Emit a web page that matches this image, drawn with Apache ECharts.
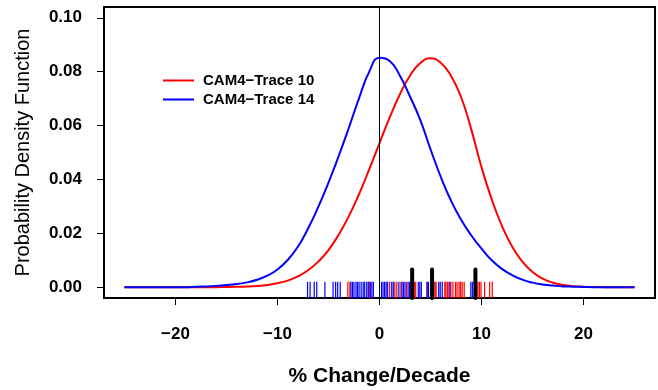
<!DOCTYPE html>
<html>
<head>
<meta charset="utf-8">
<script src="https://cdn.jsdelivr.net/npm/echarts@6/dist/echarts.min.js"></script>
<style>
  html, body { margin: 0; padding: 0; background: #fff; }
  #chart { width: 658px; height: 390px; }
</style>
</head>
<body>
<div id="chart"></div>
<script>
// curve grid (% change/decade) and read-off densities
const xs = [-25, -24, -23, -22, -21, -20, -19, -18, -17, -16, -15, -14, -13, -12, -11, -10, -9, -8, -7, -6, -5, -4, -3, -2, -1,
  0, 1, 2, 3, 4, 5, 6, 7, 8, 9, 10, 11, 12, 13, 14, 15, 16, 17, 18, 19, 20, 21, 22, 23, 24, 25];

const trace10 = [0, 0, 0, 0, 0, 0, 0, 0, 0.00001, 0.00003, 0.00006, 0.00013, 0.00025, 0.00047, 0.00084, 0.00147, 0.00246,
  0.0040, 0.00628, 0.0095, 0.0138, 0.0195, 0.0264, 0.0346, 0.0438, 0.0535, 0.0630, 0.0716, 0.0786, 0.0832, 0.0850, 0.0833,
  0.0785, 0.0705, 0.0585, 0.0445, 0.0326, 0.0228, 0.0151, 0.0095, 0.00564, 0.00317, 0.00168, 0.00085, 0.0004, 0.00018,
  0.00007, 0.00003, 0.00001, 0, 0];

const trace14 = [0, 0, 0, 0, 0, 0, 0, 0.0002, 0.0003, 0.0005, 0.0008, 0.0012, 0.0018, 0.0028, 0.0043, 0.0066,
  0.0101, 0.0150, 0.0218, 0.0298, 0.0388, 0.0487, 0.0592, 0.0702, 0.0800, 0.0852, 0.0840, 0.0785, 0.0707, 0.0620,
  0.0512, 0.0410, 0.0322, 0.0250, 0.0192, 0.0143, 0.0100, 0.0068, 0.0045, 0.0028, 0.0017, 0.0010, 0.0006, 0.0003,
  0.0002, 0.0001, 0, 0, 0, 0, 0];

// rug values
const rug10 = [-3.1, -2.9, -1.0, 1.0, 1.5, 1.7, 2.1, 2.65, 3.45, 3.55, 4.7, 5.35, 5.45, 5.55, 6.4, 6.5, 6.65, 6.8, 7.0, 7.2,
  7.45, 7.6, 7.8, 7.95, 8.1, 8.3, 9.65, 9.8, 9.95, 10.3, 10.8, 11.05];
const rug14 = [-7.05, -6.8, -6.4, -6.15, -5.35, -4.55, -4.3, -4.1, -3.85, -2.8, -2.65, -2.5, -2.3, -2.15, -2.0, -1.8, -1.6,
  -1.45, -1.25, -1.1, -0.9, -0.75, -0.6, 0.2, 0.35, 0.5, 0.65, 0.8, 1.2, 1.35, 1.9, 2.2, 2.35, 2.5, 2.8, 2.95, 3.8, 3.95,
  4.1, 4.65, 4.8, 5.8, 5.95, 6.15, 6.9, 8.95, 9.1, 9.3, 9.45];
const obs = [3.2, 5.15, 9.4];

const xTicks = [-20, -10, 0, 10, 20];
const yTicks = [0, 0.02, 0.04, 0.06, 0.08, 0.10];

const font = '"Liberation Sans", Arial, Helvetica, sans-serif';
const yBottom = -0.004;

function rugSeries(name, values, top, color, width, cap) {
  return {
    name: name,
    type: 'custom',
    data: values.map(v => [v, 0]),
    encode: { x: 0, y: 1 },
    silent: true,
    renderItem: function (params, api) {
      const x = api.value(0);
      const p1 = api.coord([x, yBottom]);
      const p2 = api.coord([x, top]);
      return {
        type: 'line',
        shape: { x1: p1[0], y1: p1[1], x2: p2[0], y2: p2[1] },
        style: { stroke: color, lineWidth: width, lineCap: cap }
      };
    }
  };
}

const chart = echarts.init(document.getElementById('chart'), null, { renderer: 'canvas' });

chart.setOption({
  animation: false,
  grid: {
    left: 104, right: 3, top: 7, bottom: 92,
    outerBoundsMode: 'none', containLabel: false,
    show: true, borderColor: '#000', borderWidth: 2, backgroundColor: 'transparent'
  },
  legend: {
    data: ['CAM4−Trace 10', 'CAM4−Trace 14'],
    orient: 'vertical',
    left: 158, top: 66,
    icon: 'rect', itemWidth: 31, itemHeight: 2, itemGap: 0,
    textStyle: { fontFamily: font, fontWeight: 'bold', fontSize: 15, color: '#000', lineHeight: 19, padding: [0, 0, 0, 4] }
  },
  xAxis: {
    type: 'value', min: -27, max: 27,
    name: '% Change/Decade', nameLocation: 'middle', nameGap: 68,
    nameTextStyle: { fontFamily: font, fontWeight: 'bold', fontSize: 21, color: '#000' },
    axisLine: { show: false, onZero: false },
    axisTick: { show: true, customValues: xTicks, length: 7, lineStyle: { color: '#000', width: 1 } },
    axisLabel: {
      customValues: xTicks, margin: 28,
      fontFamily: font, fontWeight: 'bold', fontSize: 17, color: '#000',
      formatter: v => String(v).replace('-', '−')
    },
    splitLine: { show: false }
  },
  yAxis: {
    type: 'value', min: yBottom, max: 0.104,
    name: 'Probability Density Function', nameLocation: 'middle', nameGap: 71,
    nameTextStyle: { fontFamily: font, fontSize: 20, color: '#000' },
    axisLine: { show: false, onZero: false },
    axisTick: { show: true, customValues: yTicks, length: 7, lineStyle: { color: '#000', width: 1 } },
    axisLabel: {
      customValues: yTicks, margin: 22,
      fontFamily: font, fontWeight: 'bold', fontSize: 17, color: '#000',
      formatter: v => v.toFixed(2)
    },
    splitLine: { show: false }
  },
  series: [
    rugSeries('rug10', rug10, 0.002, '#ff0000', 1.2, 'butt'),
    rugSeries('rug14', rug14, 0.002, '#0000ff', 1.2, 'butt'),
    rugSeries('obs', obs, 0.0066, '#000000', 4, 'round'),
    {
      name: 'CAM4−Trace 10',
      type: 'line',
      data: xs.map((x, i) => [x, trace10[i]]),
      showSymbol: false,
      smooth: true,
      color: '#ff0000',
      lineStyle: { color: '#ff0000', width: 2 },
      markLine: {
        silent: true, symbol: 'none',
        label: { show: false },
        lineStyle: { color: '#000', width: 1, type: 'solid' },
        data: [{ xAxis: 0 }]
      }
    },
    {
      name: 'CAM4−Trace 14',
      type: 'line',
      data: xs.map((x, i) => [x, trace14[i]]),
      showSymbol: false,
      smooth: true,
      color: '#0000ff',
      lineStyle: { color: '#0000ff', width: 2 }
    }
  ]
});
</script>
</body>
</html>
